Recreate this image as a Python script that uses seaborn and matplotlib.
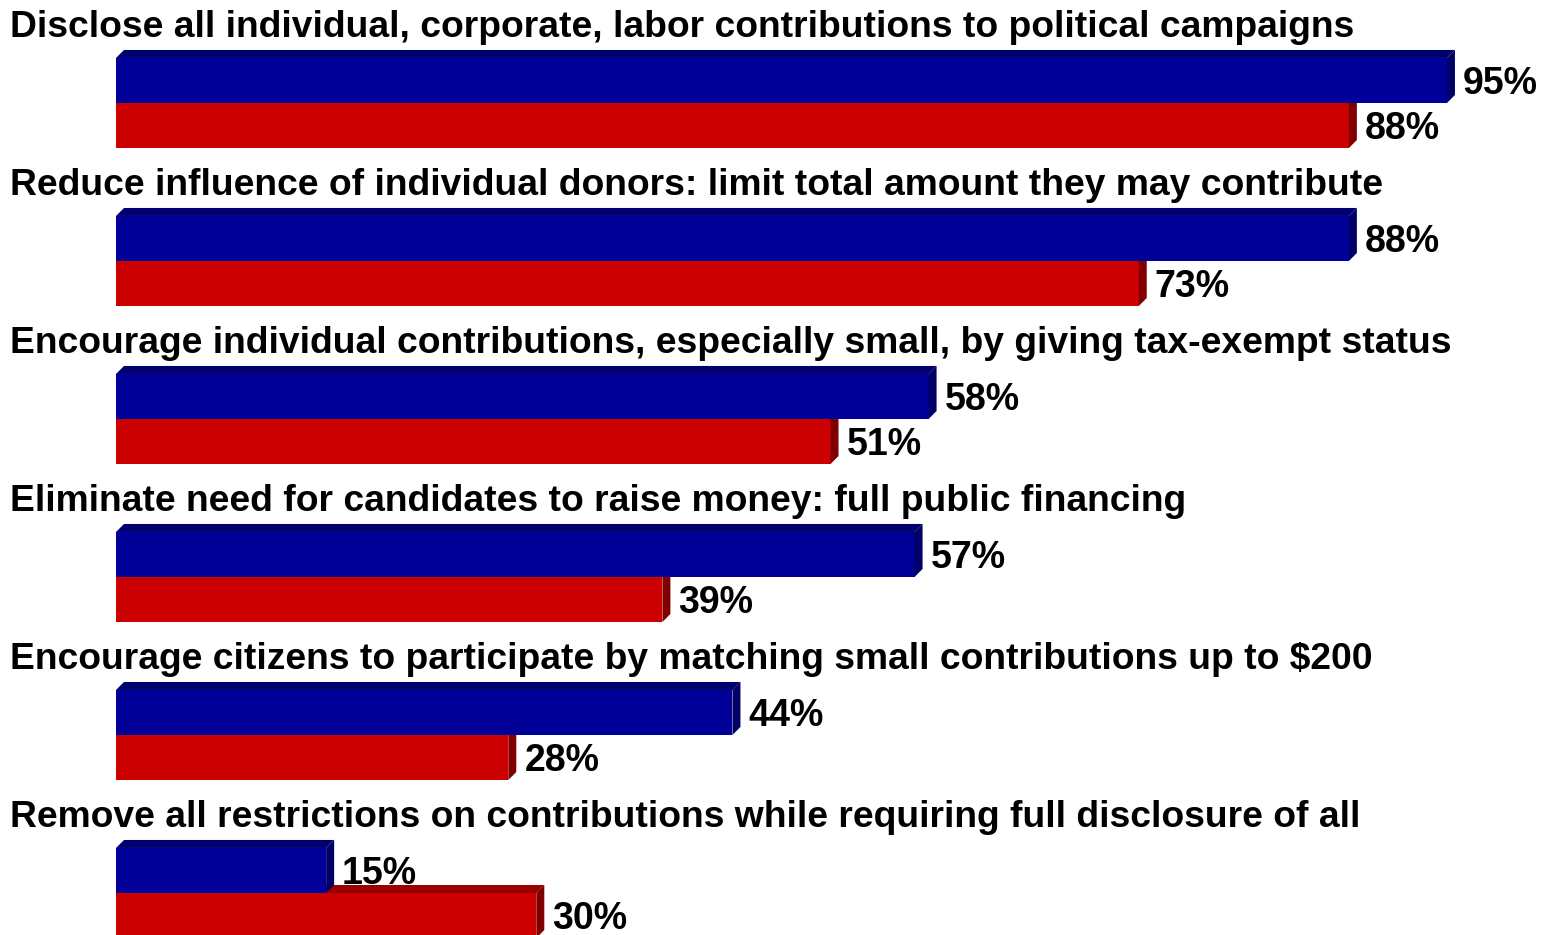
import matplotlib
matplotlib.use('Agg')
import matplotlib.pyplot as plt
from matplotlib.patches import Polygon
import seaborn as sns
import pandas as pd

items = [
    'Disclose all individual, corporate, labor contributions to political campaigns',
    'Reduce influence of individual donors: limit total amount they may contribute',
    'Encourage individual contributions, especially small, by giving tax-exempt status',
    'Eliminate need for candidates to raise money: full public financing',
    'Encourage citizens to participate by matching small contributions up to $200',
    'Remove all restrictions on contributions while requiring full disclosure of all',
]
groups = ['Democrats', 'Republicans']
dem_values = [95, 88, 58, 57, 44, 15]
rep_values = [88, 73, 51, 39, 28, 30]

face_colors = ['#000099', '#CC0000']
top_colors = ['#00006E', '#990000']
side_colors = ['#000066', '#800000']

df = pd.DataFrame({
    'item': items * 2,
    'group': [groups[0]] * len(items) + [groups[1]] * len(items),
    'value': dem_values + rep_values,
})

sns.set_style('white')
plt.rcParams['font.family'] = ['Liberation Sans', 'DejaVu Sans']

fig = plt.figure(figsize=(15.5, 9.35), dpi=100)
ax = fig.add_axes([0, 0, 1, 1])

sns.barplot(data=df, x='value', y='item', hue='group', hue_order=groups,
            order=items, orient='h', width=0.57, dodge=True,
            palette=face_colors, saturation=1, legend=False, ax=ax)

# pixel mapping: x=0 at 116px, 14.01 px per percent; group centre at 103px, 158 px per group
px_x = 14.01
px_y = 158.0
ax.set_xlim(-116 / px_x, (1550 - 116) / px_x)
ax.set_ylim((935 - 103) / px_y, -103 / px_y)
ax.axis('off')

dx = 8 / px_x
dy = 8 / px_y

# fake 3D: top and right side faces for each bar
for k, container in enumerate(ax.containers):
    base_z = 1 if k == 1 else 3
    for bar in container:
        bar.set_zorder(base_z)
        bar.set_edgecolor('none')
        x0 = bar.get_x()
        x1 = x0 + bar.get_width()
        yt = min(bar.get_y(), bar.get_y() + bar.get_height())
        yb = max(bar.get_y(), bar.get_y() + bar.get_height())
        top = Polygon([(x0, yt), (x0 + dx, yt - dy), (x1 + dx, yt - dy), (x1, yt)],
                      closed=True, facecolor=top_colors[k], edgecolor='none',
                      zorder=base_z + 0.5)
        side = Polygon([(x1, yt), (x1 + dx, yt - dy), (x1 + dx, yb - dy), (x1, yb)],
                       closed=True, facecolor=side_colors[k], edgecolor='none',
                       zorder=base_z + 0.5)
        ax.add_patch(top)
        ax.add_patch(side)
    labels = ax.bar_label(container, fmt='%d%%', padding=11.5, fontsize=27,
                          fontweight='bold', color='black', zorder=5)
    for lab in labels:
        # labels sit a little below the bar middle in the original
        lab.xyann = (lab.xyann[0], -2.5)

for i, item in enumerate(items):
    ax.text(-106 / px_x, i - 0.48, item, ha='left', va='center',
            fontsize=26.8, fontweight='bold', color='black')

fig.savefig('out.png', dpi=100, facecolor='white')
